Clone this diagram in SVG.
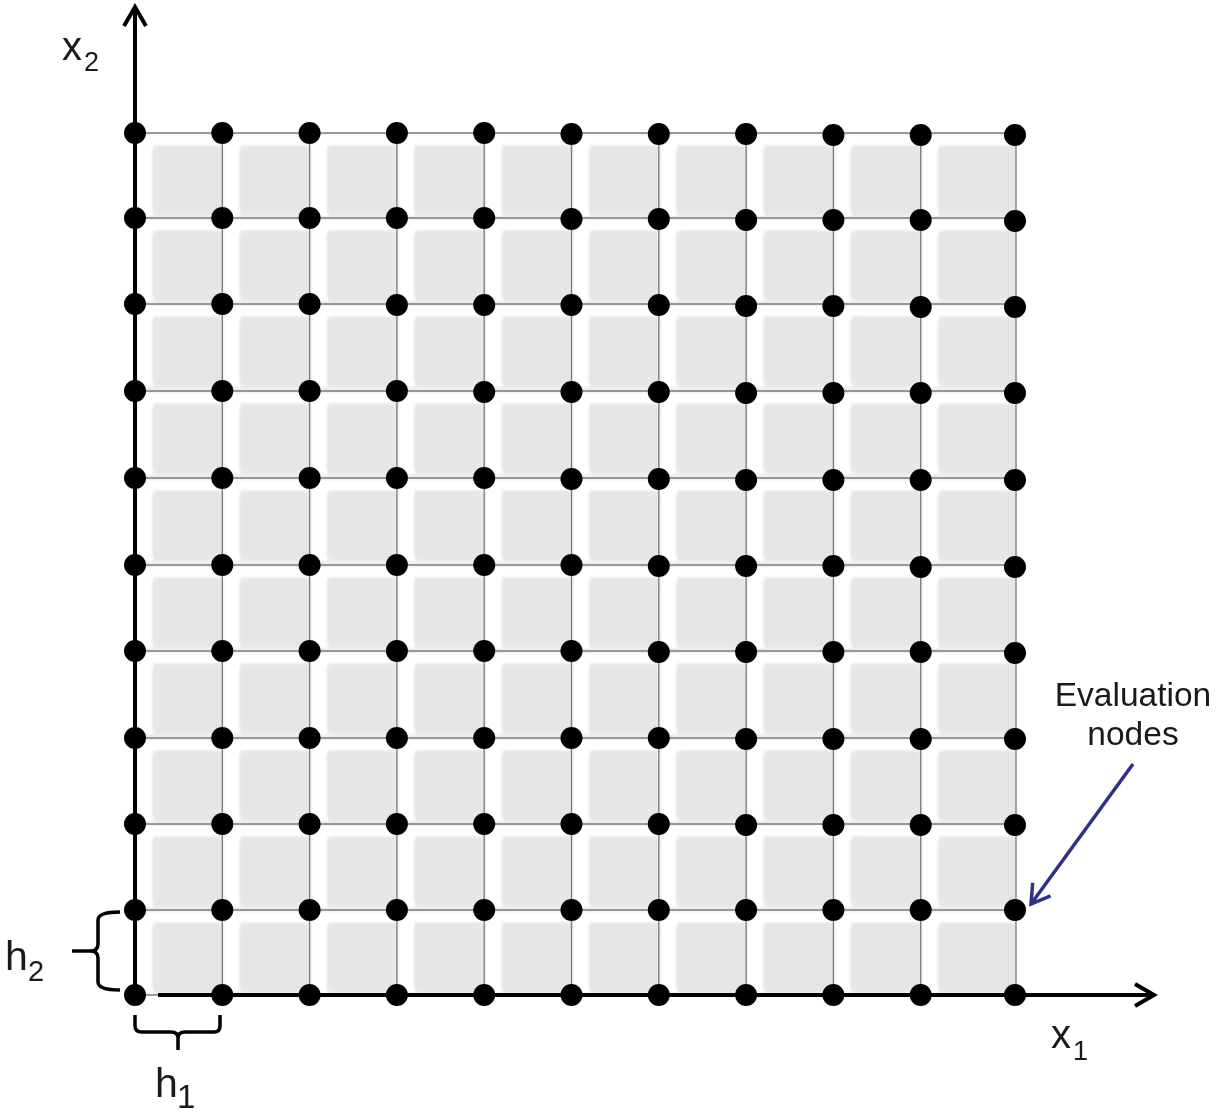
<svg xmlns="http://www.w3.org/2000/svg" xmlns:xlink="http://www.w3.org/1999/xlink" width="1228" height="1113" viewBox="0 0 1228 1113">
<style>
.grid line{stroke:#7a7a7a;stroke-width:1.3}
.axis{stroke:#000;stroke-width:4;fill:none}
.dot{fill:#000}
.lbl{font-family:"Liberation Sans",Arial,sans-serif;fill:#1a1a1a}
.brace{stroke:#000;stroke-width:3.5;fill:none;stroke-linejoin:round}
.hl{fill:#fff}
.in{fill:#e6e6e6}
</style>
<defs>
<filter id="soft" x="-5%" y="-5%" width="110%" height="110%"><feGaussianBlur stdDeviation="1.2"/></filter>
<marker id="ahBlack" markerUnits="userSpaceOnUse" markerWidth="30" markerHeight="30" viewBox="0 0 30 30" refX="22" refY="15" orient="auto">
<path d="M3,4 L22,15 L3,26" fill="none" stroke="#000" stroke-width="4"/>
</marker>
<marker id="ahBlue" markerUnits="userSpaceOnUse" markerWidth="30" markerHeight="30" viewBox="0 0 30 30" refX="22" refY="15" orient="auto">
<path d="M4,4 L22,15 L4,26" fill="none" stroke="#2e318c" stroke-width="3.5"/>
</marker>
<g id="cell">
<path class="hl" d="M2,2 H85 V12 H18 V83 H2 Z"/>
<rect class="in" x="17" y="13" width="70" height="69" rx="6"/>
</g>
<g id="cellW">
<path class="hl" d="M2,2 H94 V12 H18 V83 H2 Z"/>
<rect class="in" x="17" y="13" width="79" height="69" rx="6"/>
</g>
</defs>
<rect width="1228" height="1113" fill="#fff"/>
<g id="cells">
<rect x="135" y="133" width="881" height="862" fill="#eeeeee"/>
<g filter="url(#soft)">
<use xlink:href="#cell" x="135" y="133"/><use xlink:href="#cell" x="222.3" y="133"/><use xlink:href="#cell" x="309.6" y="133"/><use xlink:href="#cell" x="396.9" y="133"/><use xlink:href="#cell" x="484.2" y="133"/><use xlink:href="#cell" x="571.5" y="133"/><use xlink:href="#cell" x="658.8" y="133"/><use xlink:href="#cell" x="746.1" y="133"/><use xlink:href="#cell" x="833.4" y="133"/><use xlink:href="#cellW" x="920.7" y="133"/>
<use xlink:href="#cell" x="135" y="218"/><use xlink:href="#cell" x="222.3" y="218"/><use xlink:href="#cell" x="309.6" y="218"/><use xlink:href="#cell" x="396.9" y="218"/><use xlink:href="#cell" x="484.2" y="218"/><use xlink:href="#cell" x="571.5" y="218"/><use xlink:href="#cell" x="658.8" y="218"/><use xlink:href="#cell" x="746.1" y="218"/><use xlink:href="#cell" x="833.4" y="218"/><use xlink:href="#cellW" x="920.7" y="218"/>
<use xlink:href="#cell" x="135" y="304"/><use xlink:href="#cell" x="222.3" y="304"/><use xlink:href="#cell" x="309.6" y="304"/><use xlink:href="#cell" x="396.9" y="304"/><use xlink:href="#cell" x="484.2" y="304"/><use xlink:href="#cell" x="571.5" y="304"/><use xlink:href="#cell" x="658.8" y="304"/><use xlink:href="#cell" x="746.1" y="304"/><use xlink:href="#cell" x="833.4" y="304"/><use xlink:href="#cellW" x="920.7" y="304"/>
<use xlink:href="#cell" x="135" y="391"/><use xlink:href="#cell" x="222.3" y="391"/><use xlink:href="#cell" x="309.6" y="391"/><use xlink:href="#cell" x="396.9" y="391"/><use xlink:href="#cell" x="484.2" y="391"/><use xlink:href="#cell" x="571.5" y="391"/><use xlink:href="#cell" x="658.8" y="391"/><use xlink:href="#cell" x="746.1" y="391"/><use xlink:href="#cell" x="833.4" y="391"/><use xlink:href="#cellW" x="920.7" y="391"/>
<use xlink:href="#cell" x="135" y="478"/><use xlink:href="#cell" x="222.3" y="478"/><use xlink:href="#cell" x="309.6" y="478"/><use xlink:href="#cell" x="396.9" y="478"/><use xlink:href="#cell" x="484.2" y="478"/><use xlink:href="#cell" x="571.5" y="478"/><use xlink:href="#cell" x="658.8" y="478"/><use xlink:href="#cell" x="746.1" y="478"/><use xlink:href="#cell" x="833.4" y="478"/><use xlink:href="#cellW" x="920.7" y="478"/>
<use xlink:href="#cell" x="135" y="565"/><use xlink:href="#cell" x="222.3" y="565"/><use xlink:href="#cell" x="309.6" y="565"/><use xlink:href="#cell" x="396.9" y="565"/><use xlink:href="#cell" x="484.2" y="565"/><use xlink:href="#cell" x="571.5" y="565"/><use xlink:href="#cell" x="658.8" y="565"/><use xlink:href="#cell" x="746.1" y="565"/><use xlink:href="#cell" x="833.4" y="565"/><use xlink:href="#cellW" x="920.7" y="565"/>
<use xlink:href="#cell" x="135" y="651"/><use xlink:href="#cell" x="222.3" y="651"/><use xlink:href="#cell" x="309.6" y="651"/><use xlink:href="#cell" x="396.9" y="651"/><use xlink:href="#cell" x="484.2" y="651"/><use xlink:href="#cell" x="571.5" y="651"/><use xlink:href="#cell" x="658.8" y="651"/><use xlink:href="#cell" x="746.1" y="651"/><use xlink:href="#cell" x="833.4" y="651"/><use xlink:href="#cellW" x="920.7" y="651"/>
<use xlink:href="#cell" x="135" y="738"/><use xlink:href="#cell" x="222.3" y="738"/><use xlink:href="#cell" x="309.6" y="738"/><use xlink:href="#cell" x="396.9" y="738"/><use xlink:href="#cell" x="484.2" y="738"/><use xlink:href="#cell" x="571.5" y="738"/><use xlink:href="#cell" x="658.8" y="738"/><use xlink:href="#cell" x="746.1" y="738"/><use xlink:href="#cell" x="833.4" y="738"/><use xlink:href="#cellW" x="920.7" y="738"/>
<use xlink:href="#cell" x="135" y="824"/><use xlink:href="#cell" x="222.3" y="824"/><use xlink:href="#cell" x="309.6" y="824"/><use xlink:href="#cell" x="396.9" y="824"/><use xlink:href="#cell" x="484.2" y="824"/><use xlink:href="#cell" x="571.5" y="824"/><use xlink:href="#cell" x="658.8" y="824"/><use xlink:href="#cell" x="746.1" y="824"/><use xlink:href="#cell" x="833.4" y="824"/><use xlink:href="#cellW" x="920.7" y="824"/>
<use xlink:href="#cell" x="135" y="910"/><use xlink:href="#cell" x="222.3" y="910"/><use xlink:href="#cell" x="309.6" y="910"/><use xlink:href="#cell" x="396.9" y="910"/><use xlink:href="#cell" x="484.2" y="910"/><use xlink:href="#cell" x="571.5" y="910"/><use xlink:href="#cell" x="658.8" y="910"/><use xlink:href="#cell" x="746.1" y="910"/><use xlink:href="#cell" x="833.4" y="910"/><use xlink:href="#cellW" x="920.7" y="910"/>
</g>
</g>
<g id="connectors">
<g class="grid">
<line x1="135" y1="133" x2="1016" y2="133"/><line x1="135" y1="218" x2="1016" y2="218"/><line x1="135" y1="304" x2="1016" y2="304"/><line x1="135" y1="391" x2="1016" y2="391"/><line x1="135" y1="478" x2="1016" y2="478"/><line x1="135" y1="565" x2="1016" y2="565"/><line x1="135" y1="651" x2="1016" y2="651"/><line x1="135" y1="738" x2="1016" y2="738"/><line x1="135" y1="824" x2="1016" y2="824"/><line x1="135" y1="910" x2="1016" y2="910"/><line x1="135" y1="995" x2="1016" y2="995"/>
<line x1="222.3" y1="133" x2="222.3" y2="995"/><line x1="309.6" y1="133" x2="309.6" y2="995"/><line x1="396.9" y1="133" x2="396.9" y2="995"/><line x1="484.2" y1="133" x2="484.2" y2="995"/><line x1="571.5" y1="133" x2="571.5" y2="995"/><line x1="658.8" y1="133" x2="658.8" y2="995"/><line x1="746.1" y1="133" x2="746.1" y2="995"/><line x1="833.4" y1="133" x2="833.4" y2="995"/><line x1="920.7" y1="133" x2="920.7" y2="995"/><line x1="1016" y1="133" x2="1016" y2="995"/>
</g>
<line id="axis-x2" class="axis" x1="135" y1="995" x2="135" y2="7" marker-end="url(#ahBlack)"/>
<line id="axis-x1" class="axis" x1="158" y1="995" x2="1154" y2="995" marker-end="url(#ahBlack)"/>
<line id="pointer" x1="1133" y1="764" x2="1031" y2="904" stroke="#2e318c" stroke-width="3.5" marker-end="url(#ahBlue)"/>
<path id="brace-h2" class="brace" d="M120,912 Q98,912 98,920 V944 Q98,951 90,951 H72 M90,951 Q98,951 98,958 V982 Q98,990 120,990"/>
<path id="brace-h1" class="brace" d="M135,1015 V1026 Q135,1032 142,1032 H171 Q178,1032 178,1038 V1050 M178,1038 Q178,1032 185,1032 H214 Q220,1032 220,1026 V1015"/>
</g>
<g id="nodes">
<g id="row0"><circle class="dot" cx="135" cy="133" r="11"/><circle class="dot" cx="222.3" cy="133" r="11"/><circle class="dot" cx="309.6" cy="133" r="11"/><circle class="dot" cx="396.9" cy="133" r="11"/><circle class="dot" cx="484.2" cy="133" r="11"/><circle class="dot" cx="571.5" cy="134" r="11"/><circle class="dot" cx="658.8" cy="134" r="11"/><circle class="dot" cx="746.1" cy="134" r="11"/><circle class="dot" cx="833.4" cy="135" r="11"/><circle class="dot" cx="920.7" cy="135" r="11"/><circle class="dot" cx="1015" cy="135" r="11"/></g>
<g id="row1"><circle class="dot" cx="135" cy="218" r="11"/><circle class="dot" cx="222.3" cy="218" r="11"/><circle class="dot" cx="309.6" cy="218" r="11"/><circle class="dot" cx="396.9" cy="218" r="11"/><circle class="dot" cx="484.2" cy="218" r="11"/><circle class="dot" cx="571.5" cy="219" r="11"/><circle class="dot" cx="658.8" cy="219" r="11"/><circle class="dot" cx="746.1" cy="220" r="11"/><circle class="dot" cx="833.4" cy="220" r="11"/><circle class="dot" cx="920.7" cy="220" r="11"/><circle class="dot" cx="1015" cy="221" r="11"/></g>
<g id="row2"><circle class="dot" cx="135" cy="304" r="11"/><circle class="dot" cx="222.3" cy="304" r="11"/><circle class="dot" cx="309.6" cy="304" r="11"/><circle class="dot" cx="396.9" cy="305" r="11"/><circle class="dot" cx="484.2" cy="305" r="11"/><circle class="dot" cx="571.5" cy="305" r="11"/><circle class="dot" cx="658.8" cy="305" r="11"/><circle class="dot" cx="746.1" cy="306" r="11"/><circle class="dot" cx="833.4" cy="306" r="11"/><circle class="dot" cx="920.7" cy="307" r="11"/><circle class="dot" cx="1015" cy="307" r="11"/></g>
<g id="row3"><circle class="dot" cx="135" cy="391" r="11"/><circle class="dot" cx="222.3" cy="391" r="11"/><circle class="dot" cx="309.6" cy="391" r="11"/><circle class="dot" cx="396.9" cy="391" r="11"/><circle class="dot" cx="484.2" cy="392" r="11"/><circle class="dot" cx="571.5" cy="392" r="11"/><circle class="dot" cx="658.8" cy="392" r="11"/><circle class="dot" cx="746.1" cy="393" r="11"/><circle class="dot" cx="833.4" cy="393" r="11"/><circle class="dot" cx="920.7" cy="393" r="11"/><circle class="dot" cx="1015" cy="393" r="11"/></g>
<g id="row4"><circle class="dot" cx="135" cy="478" r="11"/><circle class="dot" cx="222.3" cy="478" r="11"/><circle class="dot" cx="309.6" cy="478" r="11"/><circle class="dot" cx="396.9" cy="478" r="11"/><circle class="dot" cx="484.2" cy="478" r="11"/><circle class="dot" cx="571.5" cy="479" r="11"/><circle class="dot" cx="658.8" cy="479" r="11"/><circle class="dot" cx="746.1" cy="480" r="11"/><circle class="dot" cx="833.4" cy="480" r="11"/><circle class="dot" cx="920.7" cy="480" r="11"/><circle class="dot" cx="1015" cy="480" r="11"/></g>
<g id="row5"><circle class="dot" cx="135" cy="565" r="11"/><circle class="dot" cx="222.3" cy="565" r="11"/><circle class="dot" cx="309.6" cy="565" r="11"/><circle class="dot" cx="396.9" cy="565" r="11"/><circle class="dot" cx="484.2" cy="565" r="11"/><circle class="dot" cx="571.5" cy="565" r="11"/><circle class="dot" cx="658.8" cy="566" r="11"/><circle class="dot" cx="746.1" cy="566" r="11"/><circle class="dot" cx="833.4" cy="566" r="11"/><circle class="dot" cx="920.7" cy="567" r="11"/><circle class="dot" cx="1015" cy="567" r="11"/></g>
<g id="row6"><circle class="dot" cx="135" cy="651" r="11"/><circle class="dot" cx="222.3" cy="651" r="11"/><circle class="dot" cx="309.6" cy="651" r="11"/><circle class="dot" cx="396.9" cy="651" r="11"/><circle class="dot" cx="484.2" cy="651" r="11"/><circle class="dot" cx="571.5" cy="651" r="11"/><circle class="dot" cx="658.8" cy="652" r="11"/><circle class="dot" cx="746.1" cy="652" r="11"/><circle class="dot" cx="833.4" cy="652" r="11"/><circle class="dot" cx="920.7" cy="652" r="11"/><circle class="dot" cx="1015" cy="653" r="11"/></g>
<g id="row7"><circle class="dot" cx="135" cy="738" r="11"/><circle class="dot" cx="222.3" cy="738" r="11"/><circle class="dot" cx="309.6" cy="738" r="11"/><circle class="dot" cx="396.9" cy="738" r="11"/><circle class="dot" cx="484.2" cy="738" r="11"/><circle class="dot" cx="571.5" cy="738" r="11"/><circle class="dot" cx="658.8" cy="738" r="11"/><circle class="dot" cx="746.1" cy="739" r="11"/><circle class="dot" cx="833.4" cy="739" r="11"/><circle class="dot" cx="920.7" cy="739" r="11"/><circle class="dot" cx="1015" cy="739" r="11"/></g>
<g id="row8"><circle class="dot" cx="135" cy="824" r="11"/><circle class="dot" cx="222.3" cy="824" r="11"/><circle class="dot" cx="309.6" cy="824" r="11"/><circle class="dot" cx="396.9" cy="824" r="11"/><circle class="dot" cx="484.2" cy="824" r="11"/><circle class="dot" cx="571.5" cy="824" r="11"/><circle class="dot" cx="658.8" cy="824" r="11"/><circle class="dot" cx="746.1" cy="825" r="11"/><circle class="dot" cx="833.4" cy="825" r="11"/><circle class="dot" cx="920.7" cy="825" r="11"/><circle class="dot" cx="1015" cy="825" r="11"/></g>
<g id="row9"><circle class="dot" cx="135" cy="910" r="11"/><circle class="dot" cx="222.3" cy="910" r="11"/><circle class="dot" cx="309.6" cy="910" r="11"/><circle class="dot" cx="396.9" cy="910" r="11"/><circle class="dot" cx="484.2" cy="910" r="11"/><circle class="dot" cx="571.5" cy="910" r="11"/><circle class="dot" cx="658.8" cy="910" r="11"/><circle class="dot" cx="746.1" cy="910" r="11"/><circle class="dot" cx="833.4" cy="910" r="11"/><circle class="dot" cx="920.7" cy="910" r="11"/><circle class="dot" cx="1015" cy="910" r="11"/></g>
<g id="row10"><circle class="dot" cx="135" cy="995" r="11"/><circle class="dot" cx="222.3" cy="995" r="11"/><circle class="dot" cx="309.6" cy="995" r="11"/><circle class="dot" cx="396.9" cy="995" r="11"/><circle class="dot" cx="484.2" cy="995" r="11"/><circle class="dot" cx="571.5" cy="995" r="11"/><circle class="dot" cx="658.8" cy="995" r="11"/><circle class="dot" cx="746.1" cy="995" r="11"/><circle class="dot" cx="833.4" cy="995" r="11"/><circle class="dot" cx="920.7" cy="995" r="11"/><circle class="dot" cx="1015" cy="995" r="11"/></g>
</g>
<g id="labels">
<text class="lbl" x="62" y="60" font-size="40">x<tspan x="84" y="71" font-size="27">2</tspan></text>
<text class="lbl" x="1051" y="1048" font-size="40">x<tspan x="1073" y="1060" font-size="27">1</tspan></text>
<text class="lbl" x="5" y="970" font-size="41">h<tspan x="28" y="981" font-size="29">2</tspan></text>
<text class="lbl" x="155" y="1097" font-size="41">h<tspan x="177" y="1108" font-size="33">1</tspan></text>
<text class="lbl" x="1133" y="706" font-size="33.5" text-anchor="middle">Evaluation</text>
<text class="lbl" x="1133" y="745" font-size="33.5" text-anchor="middle">nodes</text>
</g>
</svg>
